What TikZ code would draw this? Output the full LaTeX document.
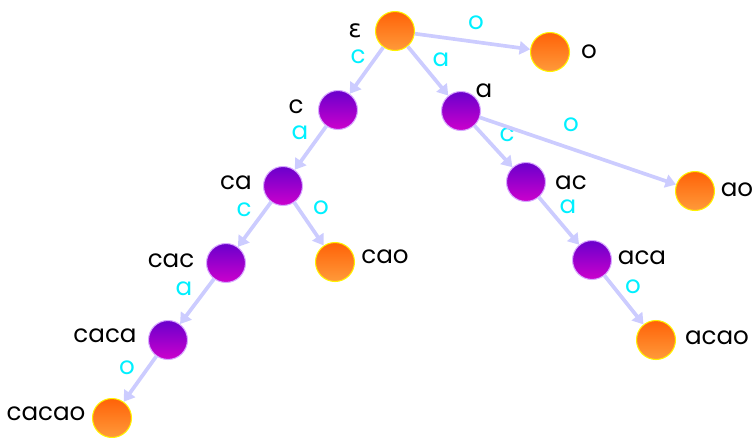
\documentclass[tikz,border=0pt]{standalone}
\usepackage{fontspec}
\setmainfont{Poppins}
\newfontfamily\grkfont{DejaVu Sans}
\usetikzlibrary{arrows.meta}
\usetikzlibrary{positioning}

\definecolor{leaftop}{HTML}{FF6208}
\definecolor{leafbot}{HTML}{FF9A3A}
\definecolor{innertop}{HTML}{6A00CC}
\definecolor{innerbot}{HTML}{CC00CC}
\definecolor{inneredge}{HTML}{D7A8FF}
\definecolor{arcblue}{HTML}{CCCCFF}
\definecolor{symcyan}{HTML}{00F0FF}

\begin{document}
\begin{tikzpicture}[x=0.02cm, y=-0.02cm,
  state/.style={circle, inner sep=0pt, minimum size=0.78cm},
  leaf/.style={state, draw=yellow, line width=0.6pt, top color=leaftop, bottom color=leafbot},
  inner/.style={state, draw=inneredge, line width=0.6pt, top color=innertop, bottom color=innerbot},
  arc/.style={draw=arcblue, line width=2.1pt, -{Triangle[length=6pt, width=7.5pt]}},
  word/.style={font=\fontsize{14}{16}\selectfont, inner sep=0pt},
  sym/.style={word, text=symcyan}]%

\useasboundingbox (0,0) rectangle (755,437);

% trie nodes: name / x / y / kind / text x / text y / text
\foreach \n/\x/\y/\k/\tx/\ty/\t in {
    eps/395/31/leaf/355/31/{\grkfont ε},
    o/550/52/leaf/589/52/o,
    c/338/110/inner/296/107/c,
    a/461/111/inner/484/91/a,
    ca/283/186/inner/236/183/ca,
    ac/526/182/inner/571/183/ac,
    ao/695/191/leaf/737/190/ao,
    cac/226/263/inner/171/261/cac,
    cao/335/262/leaf/385/257/cao,
    aca/592/260/inner/642/258/aca,
    caca/168/340/inner/105/336/caca,
    acao/656/340/leaf/717/338/acao,
    cacao/112/418/leaf/46/414/cacao} {
  \node [\k] (\n) at (\x,\y) {};
  \node [word] (t-\n) at (\tx,\ty) {\t};
}

% transitions with their symbols
\foreach \a/\b/\s/\lx/\ly in {
    eps/o/o/476/23, eps/c/c/358/57, eps/a/a/441/60,
    c/ca/a/300/133, a/ac/c/507/135, a/ao/o/571/125,
    ca/cac/c/244/210, ca/cao/o/321/208, ac/aca/a/568/207,
    cac/caca/a/184/289, aca/acao/o/633/287, caca/cacao/o/127/368} {
  \draw [arc] (\a) -- (\b);
  \node [sym] (s-\b) at (\lx,\ly) {\s};
}

\end{tikzpicture}
\end{document}
